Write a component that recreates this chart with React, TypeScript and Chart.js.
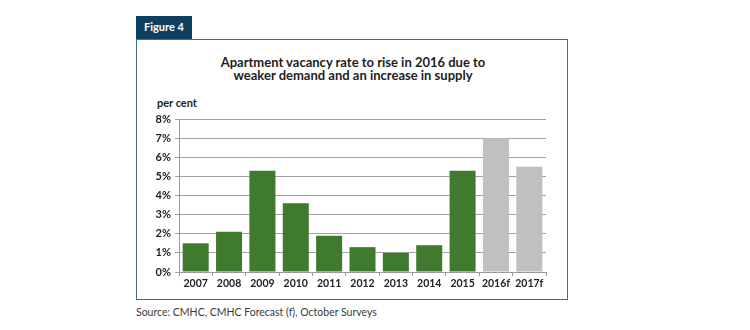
import React, { useEffect, useRef } from "react";
import { Chart, registerables } from "chart.js";

Chart.register(...registerables);

const categories = ["2007", "2008", "2009", "2010", "2011", "2012", "2013", "2014", "2015", "2016f", "2017f"];
const vacancyRate = [1.5, 2.1, 5.3, 3.6, 1.9, 1.3, 1.0, 1.4, 5.3, 7.0, 5.5];
const barColors = ["#3f7a2f", "#3f7a2f", "#3f7a2f", "#3f7a2f", "#3f7a2f", "#3f7a2f", "#3f7a2f", "#3f7a2f", "#3f7a2f", "#c0c0c0", "#c0c0c0"];
const titleLines = ["Apartment vacancy rate to rise in 2016 due to", "weaker demand and an increase in supply"];

const FONT = "Lato, 'Open Sans', sans-serif";

export default function App() {
  const ref = useRef<HTMLCanvasElement>(null);
  useEffect(() => {
    if (!ref.current) return;
    const chart = new Chart(ref.current, {
      type: "bar",
      data: {
        labels: categories,
        datasets: [
          {
            data: vacancyRate,
            backgroundColor: barColors,
            borderWidth: 0,
            barPercentage: 0.78,
            categoryPercentage: 1,
          },
        ],
      },
      options: {
        animation: false,
        responsive: false,
        maintainAspectRatio: false,
        layout: { padding: { top: 79, left: 0, right: 21, bottom: 0 } },
        plugins: { legend: { display: false }, tooltip: { enabled: false }, title: { display: false } },
        scales: {
          x: {
            afterFit: (s: any) => {
              s.height = 27;
            },
            grid: { display: true, drawOnChartArea: false, drawTicks: true, tickLength: 4, color: "#9a9a9a", offset: true },
            border: { display: true, color: "#9a9a9a", width: 1 },
            ticks: { color: "#222", font: { family: FONT, size: 10.5, weight: "bold" }, padding: 1, maxRotation: 0 },
          },
          y: {
            min: 0,
            max: 8,
            afterFit: (s: any) => {
              s.width = 41;
            },
            grid: { color: "#a3a3a3", lineWidth: 1, drawTicks: true, tickLength: 4 },
            border: { display: true, color: "#9a9a9a", width: 1 },
            ticks: {
              stepSize: 1,
              color: "#222",
              padding: 4,
              font: { family: FONT, size: 11, weight: "bold" },
              callback: (v: any) => v + "%",
            },
          },
        },
      },
    });
    return () => chart.destroy();
  }, []);

  return (
    <div style={{ position: "absolute", left: 0, top: 0, width: 750, height: 330, background: "#fff", fontFamily: FONT }}>
      <div
        style={{
          position: "absolute",
          left: 136,
          top: 16,
          width: 56,
          height: 24,
          background: "#0f3f60",
          color: "#fff",
          fontSize: 11,
          fontWeight: 700,
          lineHeight: "22px",
          textAlign: "center",
        }}
      >
        Figure 4
      </div>
      <div
        style={{
          position: "absolute",
          left: 136,
          top: 39,
          width: 430,
          height: 259,
          border: "1.5px solid #3f6f8c",
        }}
      />
      <div
        style={{
          position: "absolute",
          left: 138,
          top: 56,
          width: 430,
          textAlign: "center",
          fontSize: 13,
          fontWeight: 700,
          lineHeight: "13px",
          color: "#1e1e1e",
        }}
      >
        <div>{titleLines[0]}</div>
        <div>{titleLines[1]}</div>
      </div>
      <div style={{ position: "absolute", left: 157, top: 96, fontSize: 11, fontWeight: 700, color: "#1e1e1e" }}>per cent</div>
      <canvas ref={ref} width={429} height={259} style={{ position: "absolute", left: 138, top: 40, width: 429, height: 259 }} />
      <div style={{ position: "absolute", left: 136, top: 306, fontSize: 10.5, color: "#3a3a3a" }}>
        Source: CMHC, CMHC Forecast (f), October Surveys
      </div>
    </div>
  );
}
